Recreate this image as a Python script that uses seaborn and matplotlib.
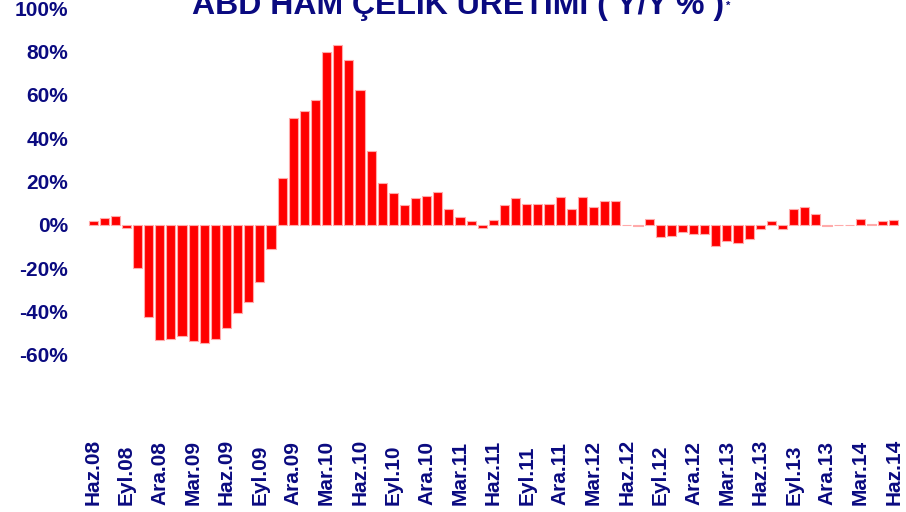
import matplotlib
matplotlib.use("Agg")
import matplotlib.pyplot as plt
import seaborn as sns
import pandas as pd

# ---- data -------------------------------------------------------------
month_abbr = ["Oca", "Şub", "Mar", "Nis", "May", "Haz",
              "Tem", "Ağu", "Eyl", "Eki", "Kas", "Ara"]
start_year, start_month = 2008, 6   # Haziran 2008
n_months = 73                       # through Haziran 2014

periods = []
for i in range(n_months):
    m = (start_month - 1 + i) % 12
    y = start_year + (start_month - 1 + i) // 12
    periods.append(f"{month_abbr[m]}.{y % 100:02d}")

yoy_change = [
    1.7, 3.0, 4.0, -1.5, -20.2, -42.5, -53.3, -52.7, -51.6, -53.9,
    -54.6, -52.7, -47.6, -40.7, -35.9, -26.3, -11.2, 21.5, 49.3, 52.6,
    57.7, 79.7, 82.8, 76.0, 62.3, 33.9, 19.1, 14.5, 9.1, 12.3,
    13.3, 15.3, 7.1, 3.6, 1.6, -1.4, 2.3, 9.0, 12.3, 9.6,
    9.6, 9.6, 12.8, 7.1, 12.8, 8.0, 11.0, 11.0, -0.3, -0.5,
    2.6, -5.8, -5.1, -3.5, -4.2, -4.3, -9.7, -7.5, -8.5, -6.8,
    -2.0, 1.6, -2.0, 7.1, 8.3, 4.9, -0.5, -0.3, -0.3, 2.5,
    0.4, 1.6, 2.2,
]

y_ticks = [-60, -40, -20, 0, 20, 40, 60, 80, 100]
title = "ABD HAM ÇELİK ÜRETİMİ ( Y/Y % )"

df = pd.DataFrame({"period": periods, "yoy": yoy_change})

# ---- style ------------------------------------------------------------
sns.set_theme(style="white")
plt.rcParams["font.family"] = ["Liberation Sans", "DejaVu Sans"]
navy = "#0a0a80"

fig = plt.figure(figsize=(9.06, 5.12), dpi=100)
ax = fig.add_axes([0.0966, 0.2228, 0.9926 - 0.0966, 0.984 - 0.2228])

sns.barplot(data=df, x="period", y="yoy", color="#ff0000",
            saturation=1, width=0.82, edgecolor="#ffaaaa",
            linewidth=0.8, ax=ax)

ax.set_xlim(-0.5, n_months - 0.5)
ax.set_ylim(-80, 100)
ax.set_yticks(y_ticks)
ax.set_yticklabels([f"{v}%" for v in y_ticks], fontsize=15,
                   fontweight="bold", color=navy)

tick_pos = list(range(0, n_months, 3))
ax.set_xticks(tick_pos)
ax.set_xticklabels([periods[i] for i in tick_pos], rotation=90,
                   fontsize=15, fontweight="bold", color=navy,
                   va="bottom", ha="center")
ax.tick_params(axis="x", length=0, pad=77)
ax.tick_params(axis="y", length=0, pad=14)
ax.set_xlabel("")
ax.set_ylabel("")
for s in ax.spines.values():
    s.set_visible(False)
ax.grid(False)

t = fig.text(0.5055, 1 - 14 / 512, title, ha="center", va="baseline",
             fontsize=23, fontweight="bold", color=navy)
fig.text(726 / 906, 1 - 1 / 512, "*", ha="left", va="top",
         fontsize=8, fontweight="bold", color=navy)

fig.savefig("out.png", dpi=100)
